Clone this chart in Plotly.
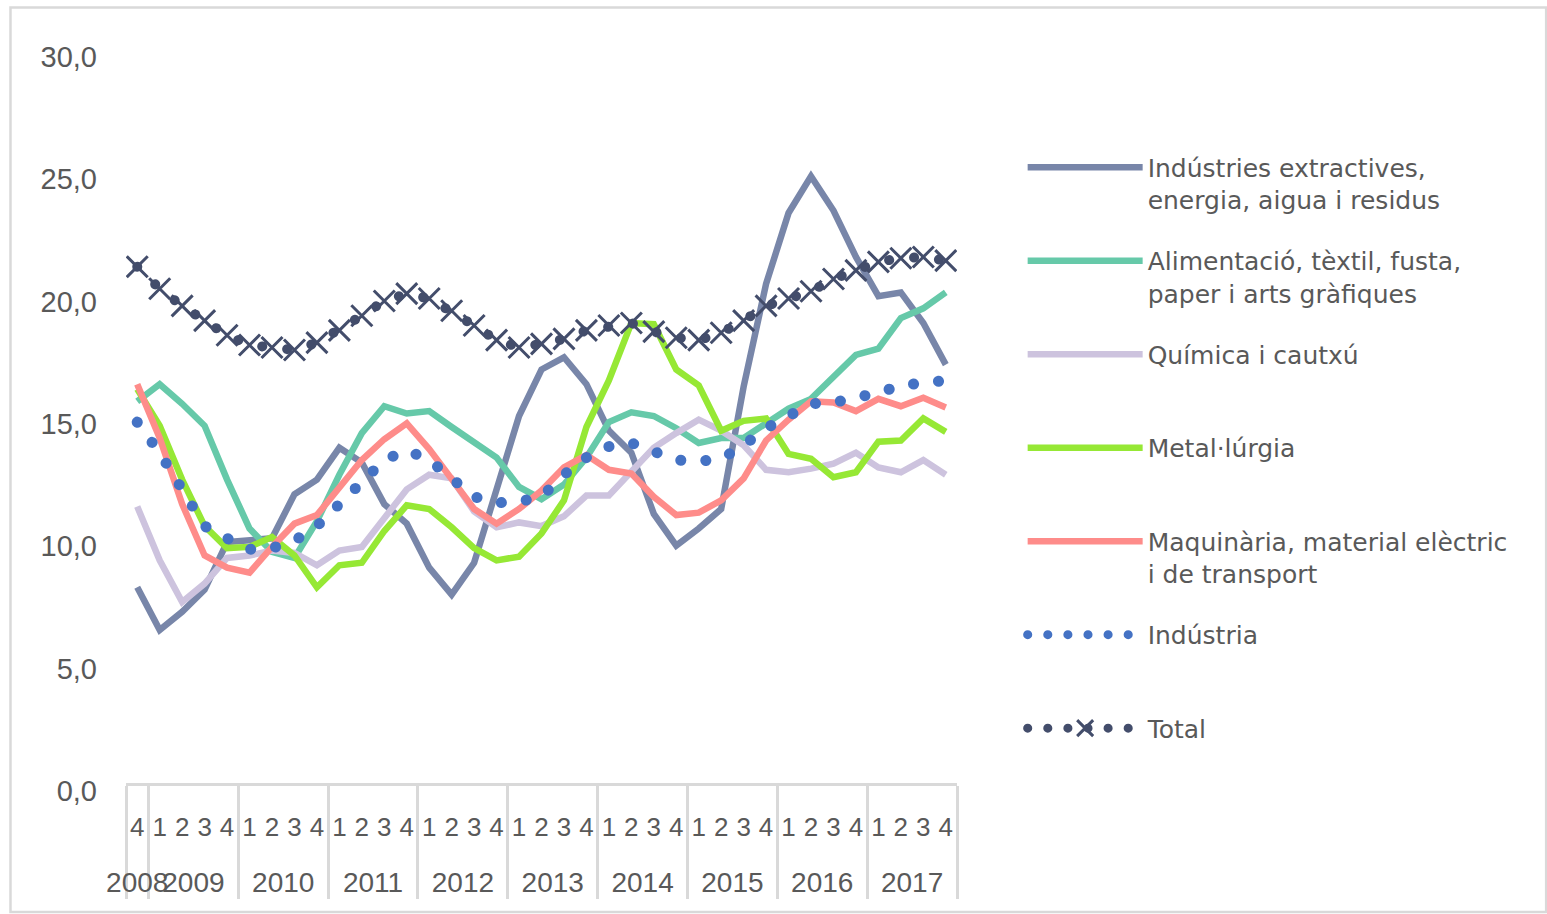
import plotly.graph_objects as go

years = ["2008",
         "2009", "2009", "2009", "2009",
         "2010", "2010", "2010", "2010",
         "2011", "2011", "2011", "2011",
         "2012", "2012", "2012", "2012",
         "2013", "2013", "2013", "2013",
         "2014", "2014", "2014", "2014",
         "2015", "2015", "2015", "2015",
         "2016", "2016", "2016", "2016",
         "2017", "2017", "2017", "2017"]
quarters = ["4",
            "1", "2", "3", "4", "1", "2", "3", "4", "1", "2", "3", "4",
            "1", "2", "3", "4", "1", "2", "3", "4", "1", "2", "3", "4",
            "1", "2", "3", "4", "1", "2", "3", "4", "1", "2", "3", "4"]

extractives = [8.0, 6.25, 7.0, 7.9, 9.85, 9.9, 10.0, 11.8, 12.4, 13.7,
               13.1, 11.4, 10.6, 8.8, 7.7, 9.0, 11.9, 15.0, 16.9, 17.4,
               16.3, 14.4, 13.5, 11.0, 9.7, 10.4, 11.2, 16.2, 20.4, 23.3,
               24.8, 23.4, 21.5, 19.9, 20.05, 18.8, 17.1]
alimentacio = [15.6, 16.3, 15.5, 14.6, 12.4, 10.4, 9.45, 9.2, 10.7, 12.6,
               14.3, 15.4, 15.1, 15.2, 14.55, 13.9, 13.3, 12.1, 11.6, 12.2,
               13.3, 14.75, 15.15, 15.0, 14.5, 13.9, 14.1, 14.1, 14.7, 15.3,
               15.7, 16.6, 17.5, 17.75, 19.0, 19.4, 20.05]
quimica = [11.3, 9.1, 7.4, 8.15, 9.2, 9.3, 9.5, 9.4, 8.9, 9.5,
           9.65, 10.8, 12.0, 12.6, 12.45, 11.1, 10.45, 10.65, 10.5, 10.9,
           11.75, 11.75, 12.7, 13.7, 14.3, 14.85, 14.4, 13.8, 12.8, 12.7,
           12.85, 13.05, 13.5, 12.9, 12.7, 13.2, 12.6]
metallurgia = [16.1, 14.6, 12.4, 10.5, 9.6, 9.65, 10.05, 9.3, 8.0, 8.9,
               9.0, 10.3, 11.35, 11.2, 10.45, 9.6, 9.1, 9.25, 10.2, 11.55,
               14.55, 16.45, 18.8, 18.75, 16.9, 16.25, 14.4, 14.8, 14.9, 13.45,
               13.25, 12.5, 12.7, 13.95, 14.0, 14.9, 14.35]
maquinaria = [16.3, 14.1, 11.4, 9.3, 8.8, 8.6, 9.65, 10.6, 10.95, 12.1,
              13.2, 14.05, 14.7, 13.65, 12.45, 11.2, 10.6, 11.2, 11.95, 12.9,
              13.4, 12.8, 12.65, 11.7, 10.95, 11.05, 11.55, 12.45, 14.0, 14.85,
              15.6, 15.55, 15.2, 15.7, 15.4, 15.75, 15.35]
industria = [14.75, 13.5, 12.0, 10.5, 10.0, 9.55, 9.6, 9.9, 10.5, 11.4,
             12.4, 13.2, 13.6, 13.2, 12.45, 11.7, 11.45, 11.5, 11.7, 12.6,
             13.3, 13.75, 13.9, 13.6, 13.2, 13.15, 13.25, 13.8, 14.5, 15.0,
             15.5, 15.55, 15.7, 15.95, 16.25, 16.35, 16.45]
total = [21.1, 20.2, 19.5, 18.9, 18.3, 17.9, 17.8, 17.7, 18.0, 18.5,
         19.1, 19.7, 20.0, 19.8, 19.3, 18.7, 18.1, 17.8, 17.95, 18.15,
         18.5, 18.7, 18.8, 18.45, 18.2, 18.1, 18.4, 18.9, 19.5, 19.8,
         20.1, 20.6, 20.95, 21.3, 21.45, 21.5, 21.35]

NB = "\u00a0"
series_names = ["Indústries extractives,<br>energia, aigua i residus",
                "Alimentació, tèxtil, fusta,<br>paper i arts gràfiques",
                "Química i cautxú<br>" + NB,
                "Metal·lúrgia<br>" + NB,
                "Maquinària, material elèctric<br>i de transport",
                "Indústria<br>" + NB,
                "Total<br>" + NB]
series_values = [extractives, alimentacio, quimica, metallurgia, maquinaria, industria, total]
series_colors = ["#7886A9", "#66C9A9", "#CDC3DE", "#96E835", "#FE8C8A", "#4472C4", "#434D6B"]

# quarter labels get an empty second line (pushes the year row down);
# the lone 2008 quarter gets a distinct key so plotly keeps 1,2,3,4 order inside each year
q_keys = [q + "<br>" + NB for q in quarters]
q_keys[0] = quarters[0] + "<br>" + NB + NB
# year row: slightly larger text, nudged down a little
y_keys = ["<sub><sub><span style='font-size:28px'>" + y + "</span></sub></sub>" for y in years]
x = [y_keys, q_keys]

fig = go.Figure()
for i, (nm, vals, col) in enumerate(zip(series_names, series_values, series_colors)):
    if i < 5:
        fig.add_trace(go.Scatter(x=x, y=vals, name=nm, mode="lines",
                                 line=dict(color=col, width=6.5),
                                 legendgroup=str(i)))
    elif i == 5:
        fig.add_trace(go.Scatter(x=x, y=vals, name=nm, mode="lines",
                                 line=dict(color=col, width=11, dash="dot"),
                                 legendgroup=str(i)))
    else:
        fig.add_trace(go.Scatter(x=x, y=vals, name=nm, mode="lines+markers",
                                 line=dict(color=col, width=10, dash="dot"),
                                 marker=dict(symbol="x-thin-open", size=21, color=col,
                                             line=dict(width=3, color=col)),
                                 legendgroup=str(i)))

FONT = "DejaVu Sans"
TICKFONT = "Liberation Sans"
GRAY = "#595959"

fig.update_layout(
    width=1547, height=914,
    margin=dict(l=126, r=590, t=49, b=131, autoexpand=False),
    paper_bgcolor="white", plot_bgcolor="white",
    separators=", ",
    showlegend=True,
    legend=dict(x=1.079, y=0.87, xanchor="left", yanchor="top",
                font=dict(family=FONT, size=25, color=GRAY),
                valign="top", itemwidth=115, tracegroupgap=25.5,
                bgcolor="rgba(0,0,0,0)"),
    font=dict(family=FONT, color=GRAY),
)
fig.update_yaxes(range=[0, 30], dtick=5, tickformat=".1f",
                 showgrid=False, zeroline=False, showline=False, ticks="",
                 tickfont=dict(family=TICKFONT, size=29, color=GRAY),
                 ticklabelstandoff=28, ticklabelshift=8)
fig.update_xaxes(type="multicategory", range=[-0.5, 36.5], autorange=False,
                 showgrid=False, zeroline=False,
                 showline=True, linecolor="#D9D9D9", linewidth=2.5,
                 ticks="", tickmode="linear", dtick=1, tickangle=0,
                 showdividers=True, dividercolor="#D9D9D9", dividerwidth=2.5,
                 tickfont=dict(family=TICKFONT, size=26, color=GRAY),
                 ticklabelstandoff=19)

# outer chart border
fig.add_shape(type="rect", xref="paper", yref="paper",
              x0=-0.139, x1=1.709, y0=-0.1757, y1=1.0565,
              line=dict(color="#D9D9D9", width=2.5), fillcolor="rgba(0,0,0,0)", layer="below")

post = """
document.body.style.margin = '0';
var gd = document.getElementById('{plot_id}');
function fixDots(){
  var tr = gd.querySelectorAll('.scatterlayer .trace');
  [5,6].forEach(function(i){
    if(!tr[i]) return;
    tr[i].querySelectorAll('path.js-line').forEach(function(p){
      p.style.strokeLinecap='round'; p.style.strokeDasharray='0.1,25';
    });
  });
  var lg = gd.querySelectorAll('.legend .traces');
  [5,6].forEach(function(i){
    if(!lg[i]) return;
    lg[i].querySelectorAll('path.js-line').forEach(function(p){
      p.style.strokeLinecap='round'; p.style.strokeDasharray='0.1,20';
      p.style.strokeWidth='9px';
    });
  });
}
fixDots();
gd.on('plotly_afterplot', fixDots);
"""

fig.write_html("out.html", post_script=post, config={"displayModeBar": False})
